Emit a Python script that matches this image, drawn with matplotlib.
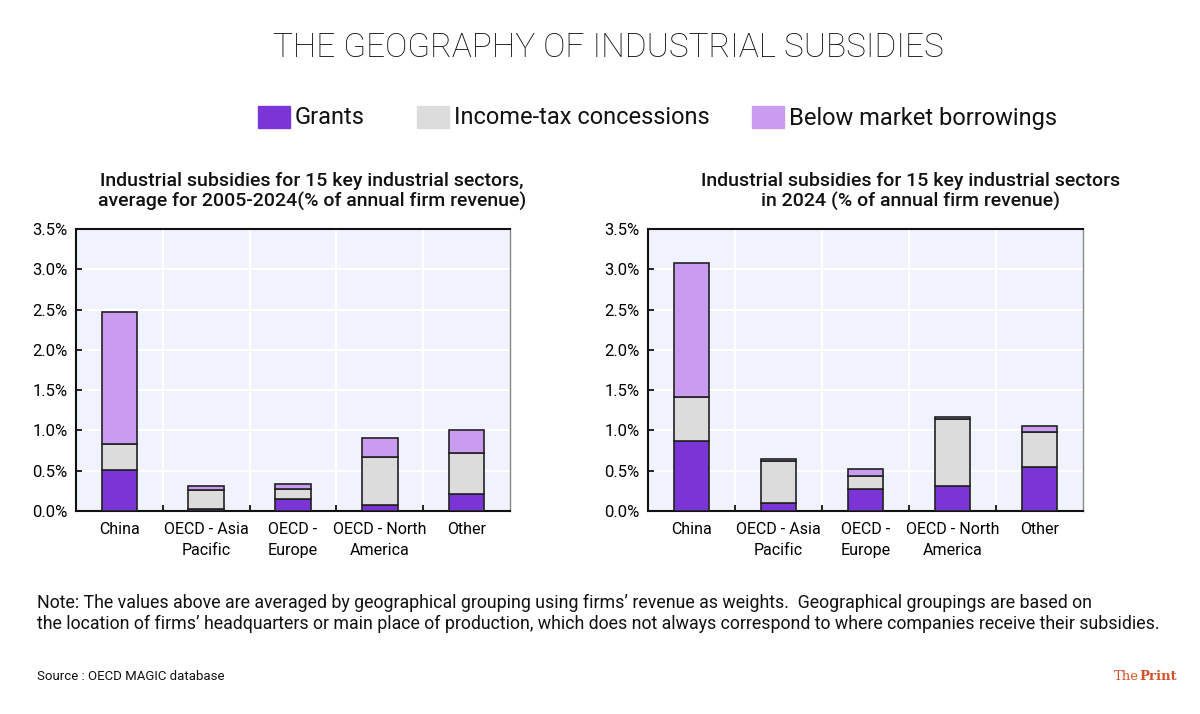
import matplotlib.pyplot as plt
import numpy as np

# data (% of annual firm revenue)
regioni = ["China", "OECD - Asia\nPacific", "OECD -\nEurope", "OECD - North\nAmerica", "Other"]
serie = ["Grants", "Income-tax concessions", "Below market borrowings"]

grants_media = [0.51, 0.025, 0.15, 0.08, 0.21]
tasse_media = [0.32, 0.235, 0.12, 0.59, 0.51]
prestiti_media = [1.64, 0.05, 0.07, 0.23, 0.28]

grants_2024 = [0.87, 0.095, 0.27, 0.31, 0.54]
tasse_2024 = [0.55, 0.53, 0.16, 0.83, 0.44]
prestiti_2024 = [1.66, 0.015, 0.09, 0.03, 0.08]

tick_y = [0.0, 0.5, 1.0, 1.5, 2.0, 2.5, 3.0, 3.5]

COL_GRANTS = "#7b35d6"
COL_TASSE = "#dcdcdc"
COL_PRESTITI = "#c99cef"
SFONDO = "#f0f3fd"
FONT = ["Roboto", "DejaVu Sans"]

plt.rcParams['font.family'] = FONT

fig = plt.figure(figsize=(12, 7.14), dpi=100)
fig.patch.set_facecolor("white")


def disegna(ax, g, t, p, titolo, cx):
    x = np.arange(len(regioni))
    g = np.array(g)
    t = np.array(t)
    p = np.array(p)
    kw = dict(width=0.41, edgecolor="#222222", linewidth=1.2, zorder=3)
    ax.bar(x, g, color=COL_GRANTS, **kw)
    ax.bar(x, t, bottom=g, color=COL_TASSE, **kw)
    ax.bar(x, p, bottom=g + t, color=COL_PRESTITI, **kw)
    ax.set_facecolor(SFONDO)
    ax.set_xlim(-0.5, len(regioni) - 0.5)
    ax.set_ylim(0, 3.5)
    ax.set_yticks(tick_y)
    ax.set_yticklabels(["%.1f%%" % v for v in tick_y], fontsize=12)
    for v in tick_y[1:-1]:
        ax.axhline(v, color="white", lw=1.5, zorder=1)
    for v in np.arange(0.5, len(regioni) - 0.5):
        ax.axvline(v, color="white", lw=1.5, zorder=1)
    ax.set_xticks(x)
    ax.set_xticklabels(regioni, fontsize=11.5, linespacing=1.45)
    ax.tick_params(axis="x", length=0, pad=8)
    ax.tick_params(axis="y", direction="in", length=4, width=1.2, pad=6)
    # piccoli tick sui bordi delle categorie
    ax.set_xticks(np.arange(0.5, len(regioni) - 0.5), minor=True)
    ax.tick_params(axis="x", which="minor", direction="in", length=4, width=1.2)
    for lato in ["left", "bottom", "top"]:
        ax.spines[lato].set_color("#111111")
        ax.spines[lato].set_linewidth(1.5)
    ax.spines["right"].set_color("#888888")
    ax.spines["right"].set_linewidth(1.0)
    fig.text(cx, 1 - 211 / 714, titolo, ha="center", va="bottom", fontsize=14,
             fontweight="medium", linespacing=1.15, color="#111111")


ax1 = fig.add_axes([0.0633, 0.2843, 0.3617, 0.395])
ax2 = fig.add_axes([0.54, 0.2843, 0.3625, 0.395])
disegna(ax1, grants_media, tasse_media, prestiti_media,
        "Industrial subsidies for 15 key industrial sectors,\naverage for 2005-2024(% of annual firm revenue)", 0.26)
disegna(ax2, grants_2024, tasse_2024, prestiti_2024,
        "Industrial subsidies for 15 key industrial sectors\nin 2024 (% of annual firm revenue)", 0.759)

# titolo
fig.text(0.507, 0.933, "THE GEOGRAPHY OF INDUSTRIAL SUBSIDIES", ha="center", va="center",
         fontsize=24, fontweight="light", color="#111111")

# legenda
colori = [COL_GRANTS, COL_TASSE, COL_PRESTITI]
pos_leg = [258, 417, 752]
for s, c, px in zip(serie, colori, pos_leg):
    fig.patches.append(plt.Rectangle((px / 1200, 1 - 128 / 714), 32 / 1200, 22 / 714,
                                     transform=fig.transFigure, color=c))
    fig.text((px + 37) / 1200, 1 - 118 / 714, s, ha="left", va="center",
             fontsize=17, color="#111111")

# note
fig.text(37 / 1200, 1 - 594 / 714,
         "Note: The values above are averaged by geographical grouping using firms\u2019 revenue as weights.  Geographical groupings are based on\n"
         "the location of firms\u2019 headquarters or main place of production, which does not always correspond to where companies receive their subsidies.",
         ha="left", va="top", fontsize=12.8, linespacing=1.2, color="#111111")
fig.text(37 / 1200, 1 - 677 / 714, "Source : OECD MAGIC database", ha="left", va="center",
         fontsize=9.5, color="#111111")
fig.text(1139 / 1200, 1 - 677 / 714, "The", ha="right", va="center",
         fontsize=9.5, family="DejaVu Serif", color="#d4502a")
fig.text(1139 / 1200, 1 - 677 / 714, "Print", ha="left", va="center",
         fontsize=9.5, family="DejaVu Serif", fontweight="bold", color="#d4502a")

fig.savefig("out.png", dpi=100, facecolor="white")
